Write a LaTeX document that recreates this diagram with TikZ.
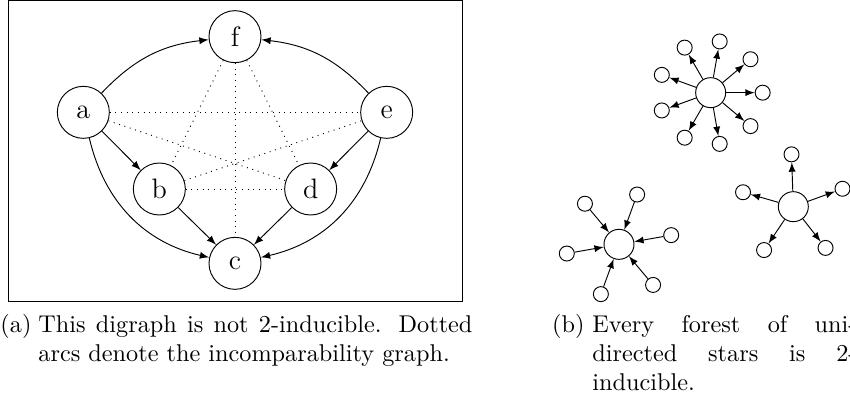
\documentclass[tikz,border=0pt]{standalone}
\usepackage{tikz}
\usetikzlibrary{arrows.meta,calc,positioning}

\begin{document}
\begin{tikzpicture}[
  vtx/.style={circle,draw,minimum size=0.78cm,inner sep=0pt,font=\large},
  hub/.style={circle,draw,minimum size=0.45cm,inner sep=0pt},
  leaf/.style={circle,draw,minimum size=0.225cm,inner sep=0pt},
  arc/.style={-latex},
  incomp/.style={dotted},
  caplabel/.style={anchor=base west,inner sep=0pt,font=\fontsize{10.35}{12.2}\selectfont},
  capbody/.style={anchor=base west,inner sep=0pt,align=justify,font=\fontsize{10.35}{12.2}\selectfont}]
\useasboundingbox (0,0) rectangle (12.75,6.0);
%--- (a) not 2-inducible ---
\draw (0.12,1.475) rectangle (6.93,5.995);
\node[vtx] (f) at (3.525,5.45) {f};
\node[vtx] (a) at (1.25,4.315) {a};
\node[vtx] (e) at (5.80,4.315) {e};
\node[vtx] (b) at (2.39,3.165) {b};
\node[vtx] (d) at (4.66,3.165) {d};
\node[vtx] (c) at (3.525,2.05) {c};
% arcs
\draw[arc] (a) to[bend left=20] (f);
\draw[arc] (e) to[bend right=20] (f);
\draw[arc] (a) to[bend right=32] (c);
\draw[arc] (e) to[bend left=32] (c);
\draw[arc] (a) -- (b);
\draw[arc] (b) -- (c);
\draw[arc] (e) -- (d);
\draw[arc] (d) -- (c);
% incomparability graph
\draw[incomp] (a) -- (e);
\draw[incomp] (a) -- (d);
\draw[incomp] (b) -- (e);
\draw[incomp] (b) -- (d);
\draw[incomp] (f) -- (b);
\draw[incomp] (f) -- (d);
\draw[incomp] (f) -- (c);
%--- (b) forest of stars ---
\node[hub] (s1) at (10.66,4.61) {};
\foreach \k in {0,...,8} {
  \node[leaf] (s1-\k) at ($(s1)+(\k*40:0.78)$) {};
  \draw[arc] (s1) -- (s1-\k);
}
\node[hub] (s2) at (9.285,2.335) {};
\foreach \k in {0,...,5} {
  \node[leaf] (s2-\k) at ($(s2)+(10+\k*60:0.795)$) {};
  \draw[arc] (s2-\k) -- (s2);
}
\node[hub] (s3) at (11.90,2.90) {};
\foreach \k in {0,...,4} {
  \node[leaf] (s3-\k) at ($(s3)+(20+\k*72:0.785)$) {};
  \draw[arc] (s3) -- (s3-\k);
}
%--- captions ---
\node[caplabel] (capa) at (0,1.005) {(a)};
\node[capbody,text width=6.51cm] (capatext) at (0.57,1.005)
  {\makebox[6.51cm][s]{This digraph is not 2-inducible. Dotted}\\
   arcs denote the incomparability graph.};
\node[caplabel] (capb) at (8.275,1.005) {(b)};
\node[capbody,text width=3.96cm] (capbtext) at (8.88,1.005)
  {\makebox[3.96cm][s]{Every forest of uni-}\\
   \makebox[3.96cm][s]{directed stars is 2-}\\
   inducible.};
\end{tikzpicture}
\end{document}
